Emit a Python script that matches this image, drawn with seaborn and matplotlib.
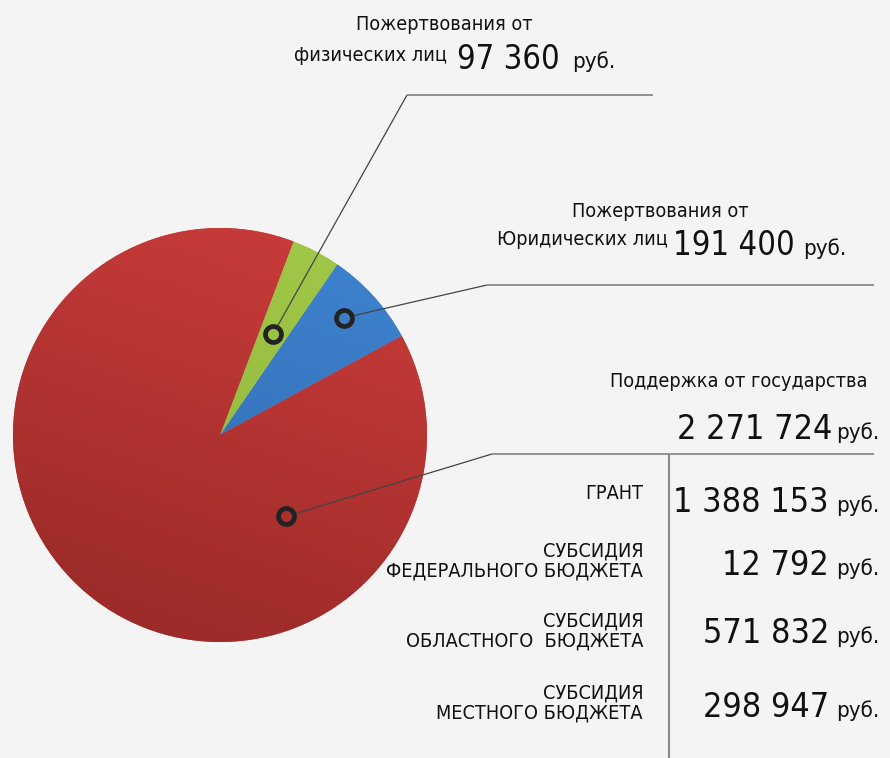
import numpy as np
import matplotlib
matplotlib.use("Agg")
import matplotlib.pyplot as plt
import seaborn as sns
from matplotlib.colors import LinearSegmentedColormap

# ---- data ----
segments = ["Пожертвования от юридических лиц", "Пожертвования от физических лиц", "Поддержка от государства"]
amounts = [191400, 97360, 2271724]
colors_top = ["#3f84d0", "#a3c94a", "#cc3d3b"]
colors_bottom = ["#2f68ad", "#8cb238", "#962927"]

state_labels = ["ГРАНТ", "СУБСИДИЯ\nФЕДЕРАЛЬНОГО БЮДЖЕТА", "СУБСИДИЯ\nОБЛАСТНОГО  БЮДЖЕТА", "СУБСИДИЯ\nМЕСТНОГО БЮДЖЕТА"]
state_amounts = ["1 388 153", "12 792", "571 832", "298 947"]

total_state = "2 271 724"
phys_amount = "97 360"
jur_amount = "191 400"

sns.set_theme(style="white")
FONT = ["DejaVu Sans"]
plt.rcParams["font.family"] = FONT

W, H = 890, 758
BG = "#f4f4f4"
fig = plt.figure(figsize=(W / 100, H / 100), dpi=100, facecolor=BG)
ax = fig.add_axes([0, 0, 1, 1])


def Y(y):
    return H - y


cx, cy, R = 220, Y(435), 207
wedges, _ = ax.pie(amounts, colors=colors_top, startangle=28.6, counterclock=True,
                   center=(cx, cy), radius=R, frame=True,
                   wedgeprops=dict(linewidth=0))
ax.set_xlim(0, W)
ax.set_ylim(0, H)
ax.set_aspect("equal")
ax.axis("off")

# gradient shading per wedge (darker toward bottom-left)
yy, xx = np.mgrid[0:1:200j, 0:1:200j]
grad = yy * 0.75 + (1 - xx) * 0.25
for w, ct, cb in zip(wedges, colors_top, colors_bottom):
    cmap = LinearSegmentedColormap.from_list("g", [ct, cb])
    im = ax.imshow(grad, cmap=cmap, extent=(cx - R, cx + R, cy - R, cy + R),
                   origin="upper", zorder=2, interpolation="bilinear", vmin=0, vmax=1)
    im.set_clip_path(w)
ax.set_xlim(0, W)
ax.set_ylim(0, H)


def line(pts, color, lw):
    xs = [p[0] for p in pts]
    ys = [Y(p[1]) for p in pts]
    ax.plot(xs, ys, color=color, lw=lw, zorder=3, solid_capstyle="butt")


line([(277, 327), (407, 95)], "#444444", 0.9)
line([(407, 95), (653, 95)], "#8a8a8a", 1.3)
line([(352, 316), (487, 285)], "#444444", 0.9)
line([(487, 285), (874, 285)], "#8a8a8a", 1.3)
line([(294, 514), (492, 454)], "#444444", 0.9)
line([(492, 454), (874, 454)], "#8a8a8a", 1.3)
line([(669, 454), (669, 758)], "#8a8a8a", 1.5)

for (px, py) in [(273, 334), (344, 318), (286, 516)]:
    ax.plot([px], [Y(py)], marker="o", markersize=11.5, markerfacecolor="none",
            markeredgecolor="#222222", markeredgewidth=3.4, zorder=4)

TXT = "#111111"


def t(x, y, s, size, ha="left", **kw):
    ax.text(x, Y(y), s, fontsize=size, ha=ha, va="baseline", color=TXT,
            family=FONT, fontstretch="condensed", zorder=5, **kw)


SMALL = 14.2
RUB = 16
# physical persons
t(444, 30, "Пожертвования от", SMALL, ha="center")
t(447, 61, "физических лиц", SMALL, ha="right")
t(560, 69, phys_amount, 23.5, ha="right")
t(572, 68, "руб.", RUB)

# legal entities
t(660, 217, "Пожертвования от", SMALL, ha="center")
t(668, 245, "Юридических лиц", SMALL, ha="right")
t(795, 255, jur_amount, 23.5, ha="right")
t(803, 255, "руб.", RUB)

# state support
t(868, 387, "Поддержка от государства", SMALL, ha="right")
t(832, 439, total_state, 24.5, ha="right")
t(836, 439, "руб.", RUB)

label_base = [499, 577, 647, 719]
num_base = [512, 575, 643, 717]
for lab, amt, lb, nb in zip(state_labels, state_amounts, label_base, num_base):
    ax.text(643, Y(lb), lab, fontsize=SMALL, ha="right", va="baseline", color=TXT,
            family=FONT, fontstretch="condensed", multialignment="right",
            linespacing=1.12, zorder=5)
    t(829, nb, amt, 24.5, ha="right")
    t(836, nb, "руб.", RUB)

fig.savefig("out.png", dpi=100, facecolor=BG)
